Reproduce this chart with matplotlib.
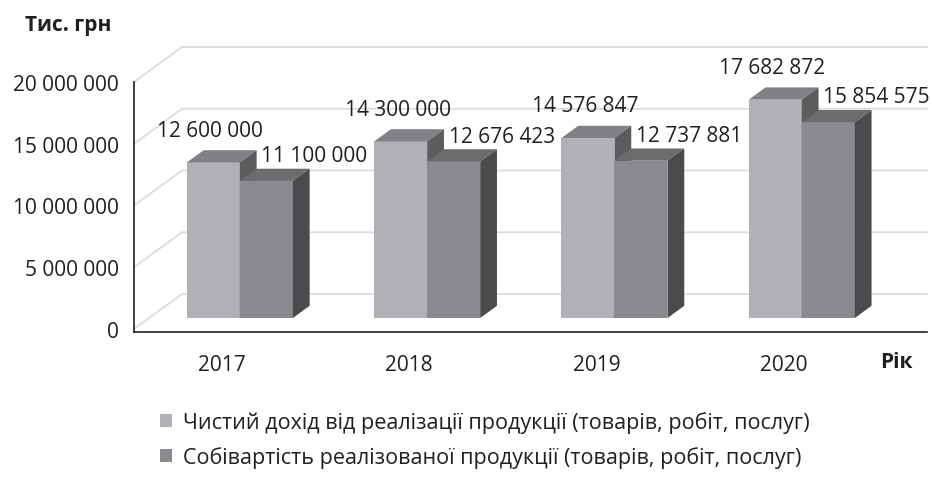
import matplotlib
matplotlib.use('Agg')
import matplotlib.pyplot as plt
from matplotlib.patches import Polygon, Patch
from matplotlib.ticker import FuncFormatter

plt.rcParams['font.family'] = ['Open Sans', 'DejaVu Sans']

years = ['2017', '2018', '2019', '2020']
revenue = [12600000, 14300000, 14576847, 17682872]
cost = [11100000, 12676423, 12737881, 15854575]
series_names = [
    'Чистий дохід від реалізації продукції (товарів, робіт, послуг)',
    'Собівартість реалізованої продукції (товарів, робіт, послуг)',
]
y_ticks = [0, 5000000, 10000000, 15000000, 20000000]

TEXT = '#231f20'
GRID = '#dcdcdc'
# front, top, side shades for each series
shades = [
    ('#b0b1b5', '#808184', '#5b5c5e'),
    ('#8a8b8f', '#6b6c6e', '#4a4b4d'),
]

# pseudo-3D depth vector in data units
DX, DY = 0.256, 2.83e6
D0, D1 = 0.314, 0.664  # bar depth range (fraction of the full depth)
BAR_W = 0.283
GROUP_SHIFT = 0.015


def fmt(v, pos=None):
    return f'{int(v):,}'.replace(',', ' ')


def draw_box(ax, x0, x1, v, cols):
    f, t, s = cols
    ax0, ay0 = D0 * DX, D0 * DY
    ax1, ay1 = D1 * DX, D1 * DY
    front = [(x0 + ax0, ay0), (x1 + ax0, ay0), (x1 + ax0, v + ay0), (x0 + ax0, v + ay0)]
    top = [(x0 + ax0, v + ay0), (x1 + ax0, v + ay0), (x1 + ax1, v + ay1), (x0 + ax1, v + ay1)]
    side = [(x1 + ax0, ay0), (x1 + ax1, ay1), (x1 + ax1, v + ay1), (x1 + ax0, v + ay0)]
    for pts, c in ((front, f), (top, t), (side, s)):
        ax.add_patch(Polygon(pts, closed=True, facecolor=c, edgecolor='none',
                             clip_on=False, zorder=3))


fig = plt.figure(figsize=(9.32, 4.81), dpi=100)
ax = fig.add_axes([134 / 932, (481 - 333) / 481, (927 - 134) / 932, 250 / 481])
ax.set_xlim(-0.4698, 3.764)
ax.set_ylim(-0.243e6, 20e6)

# walls: diagonal side lines + back gridlines
x_left, x_right = ax.get_xlim()
for v in y_ticks:
    ax.plot([x_left, x_left + DX, x_right], [v, v + DY, v + DY],
            color=GRID, lw=1.3, clip_on=False, zorder=1)

for i, year in enumerate(years):
    for j, vals in enumerate([revenue, cost]):
        x0 = i + GROUP_SHIFT - BAR_W + j * BAR_W
        draw_box(ax, x0, x0 + BAR_W, vals[i], shades[j])
        xc = x0 + BAR_W / 2 + D0 * DX
        off = (-3, 20) if j == 0 else (48, 13)
        ax.annotate(fmt(vals[i]), (xc, vals[i] + D1 * DY),
                    xytext=off, textcoords='offset pixels',
                    ha='center', va='center', fontsize=15, color=TEXT,
                    annotation_clip=False, zorder=5)

for side in ['top', 'right']:
    ax.spines[side].set_visible(False)
for side in ['left', 'bottom']:
    ax.spines[side].set_color(TEXT)
    ax.spines[side].set_linewidth(1.2)
ax.set_facecolor('none')

ax.set_yticks(y_ticks)
ax.yaxis.set_major_formatter(FuncFormatter(fmt))
ax.set_xticks(range(len(years)))
ax.set_xticklabels(years)
ax.tick_params(axis='y', length=0, pad=11, labelsize=15, labelcolor=TEXT)
ax.tick_params(axis='x', length=0, pad=15.5, labelsize=15, labelcolor=TEXT)

fig.text(68 / 932, 1 - 25 / 481, 'Тис. грн', ha='center', va='center',
         fontsize=15, fontweight='bold', color=TEXT)
fig.text(896 / 932, 1 - 362 / 481, 'Рік', ha='center', va='center',
         fontsize=15, fontweight='bold', color=TEXT)

handles = [Patch(facecolor=shades[j][0], edgecolor='none') for j in range(2)]
fig.legend(handles, series_names, loc='upper left',
           bbox_to_anchor=(141 / 932, 1 - 393 / 481), frameon=False,
           fontsize=15.5, handlelength=0.56, handleheight=0.56,
           handletextpad=0.47, labelspacing=0.62, labelcolor=TEXT)

fig.savefig('out.png', dpi=100)
